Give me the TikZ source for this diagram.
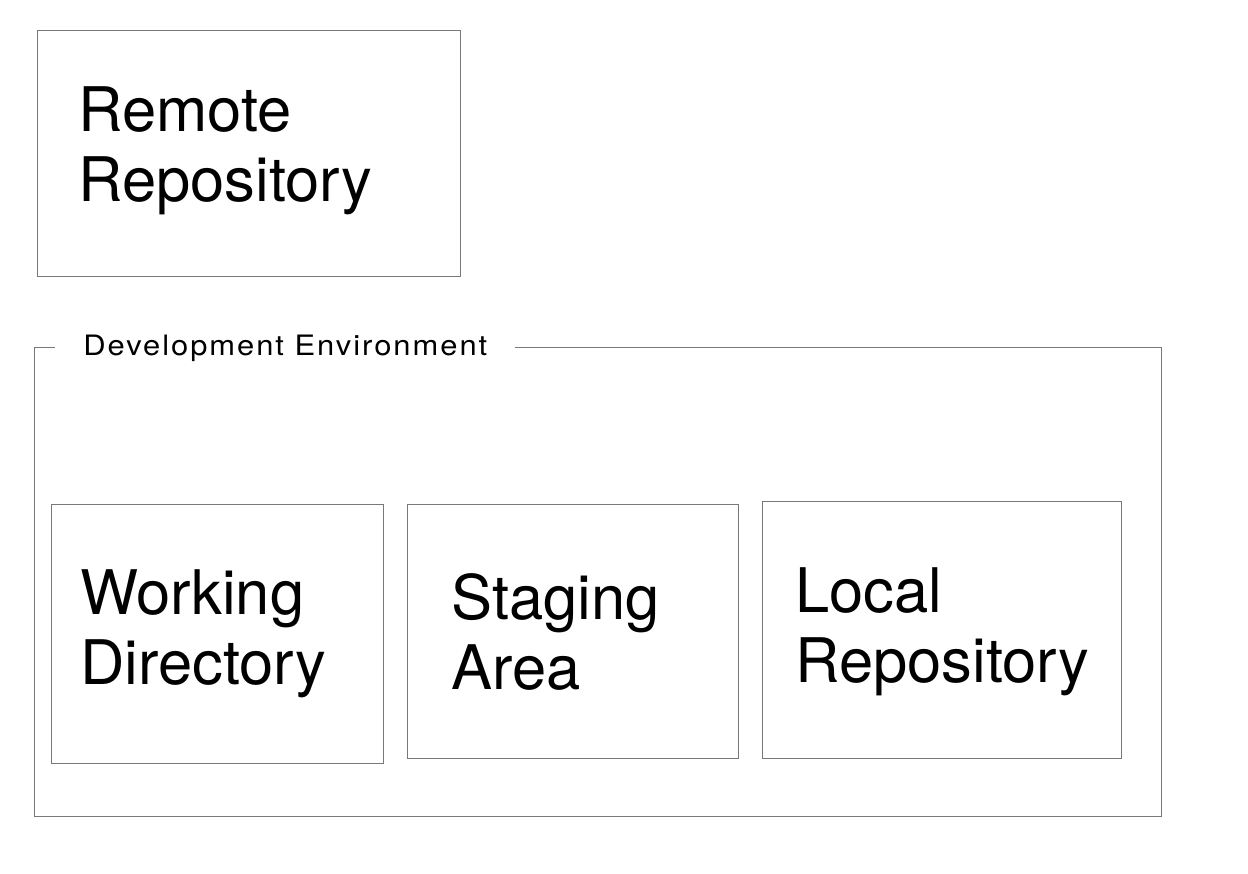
\documentclass[tikz,border=0pt]{standalone}
\usepackage{fontspec}
\setmainfont{TeX Gyre Heros}
\newfontfamily\FrameFont[FakeStretch=1.1,LetterSpace=7]{TeX Gyre Heros}
\usepackage{tikz}
\usepackage{xcolor}
\definecolor{ColLine}{RGB}{120,120,120}
\tikzstyle{BoxStage}=[rectangle,draw=ColLine,line width=0.75pt,anchor=north west,inner sep=0pt]
\tikzstyle{TextStage}=[anchor=west,align=left,inner sep=0pt,
font=\fontsize{35}{40}\selectfont]
\tikzstyle{TitleFrame}=[anchor=west,fill=white,inner xsep=0.56cm,inner ysep=2pt,
font=\FrameFont\fontsize{16}{19}\selectfont]

\begin{document}
\begin{tikzpicture}[x=0.02cm,y=-0.02cm]
        \useasboundingbox(0,0)rectangle(1248,874);
        % remote side
        \node[BoxStage,minimum width=8.46cm,minimum height=4.92cm](remote)at(37,30){};
        \node[TextStage](remotetxt)at([xshift=0.82cm,yshift=0.06cm]remote.west){Remote\\Repository};
        % local side
        \node[BoxStage,minimum width=22.54cm,minimum height=9.38cm](devenv)at(34,347){};
        \node[TitleFrame](devenvtxt)at([xshift=0.42cm,yshift=-0.02cm]devenv.north west){Development Environment};
        \node[BoxStage,minimum width=6.64cm,minimum height=5.18cm](work)at(51,504){};
        \node[TextStage](worktxt)at([xshift=0.58cm]work.west){Working\\Directory};
        \node[BoxStage,minimum width=6.62cm,minimum height=5.08cm](stage)at(407,504){};
        \node[TextStage](stagetxt)at([xshift=0.88cm]stage.west){Staging\\Area};
        \node[BoxStage,minimum width=7.18cm,minimum height=5.14cm](local)at(762,501){};
        \node[TextStage](localtxt)at([xshift=0.66cm,yshift=-0.04cm]local.west){Local\\Repository};
    \end{tikzpicture}
\end{document}
